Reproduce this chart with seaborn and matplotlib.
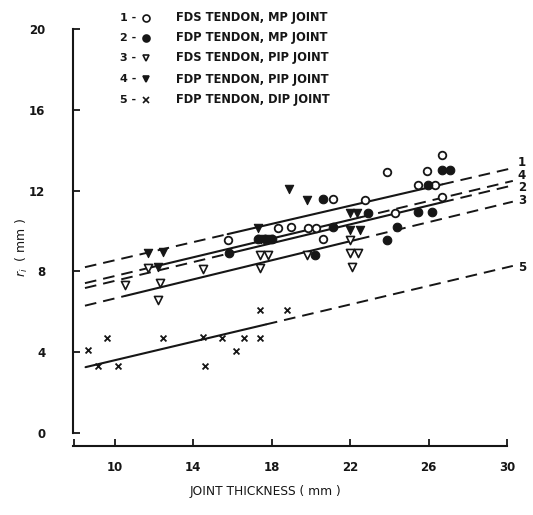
import matplotlib
matplotlib.use('Agg')
import matplotlib.pyplot as plt
import seaborn as sns

# ---------------- data ----------------
# 1 - FDS tendon, MP joint (open circles)
s1_x = [15.75, 18.3, 19.0, 19.85, 20.25, 20.6, 21.1, 22.75, 23.9, 24.3, 25.45, 25.9, 26.35, 26.7, 26.7]
s1_y = [9.55, 10.15, 10.2, 10.15, 10.15, 9.6, 11.6, 11.55, 12.9, 10.9, 12.3, 12.95, 12.3, 13.75, 11.7]
# 2 - FDP tendon, MP joint (filled circles)
s2_x = [15.8, 17.3, 17.65, 18.0, 20.2, 20.6, 21.1, 22.9, 23.9, 24.4, 25.45, 25.95, 26.2, 26.7, 27.1]
s2_y = [8.9, 9.6, 9.6, 9.6, 8.8, 11.6, 10.2, 10.9, 9.55, 10.2, 10.95, 12.3, 10.95, 13.0, 13.0]
# 3 - FDS tendon, PIP joint (open triangles)
s3_x = [10.5, 11.7, 12.3, 12.2, 14.5, 17.4, 17.8, 17.4, 19.8, 22.0, 22.0, 22.4, 22.1]
s3_y = [7.3, 8.15, 7.4, 6.6, 8.1, 8.8, 8.8, 8.15, 8.8, 9.55, 8.9, 8.9, 8.2]
# 4 - FDP tendon, PIP joint (filled triangles)
s4_x = [11.7, 12.45, 12.2, 17.3, 17.45, 17.85, 18.9, 19.8, 22.0, 22.35, 22.0, 22.5]
s4_y = [8.9, 8.95, 8.2, 10.15, 9.6, 9.6, 12.1, 11.55, 10.9, 10.9, 10.05, 10.05]
# 5 - FDP tendon, DIP joint (x)
s5_x = [8.6, 9.15, 9.6, 10.15, 12.45, 14.5, 14.6, 15.45, 16.2, 16.6, 17.4, 17.4, 18.8]
s5_y = [4.1, 3.3, 4.7, 3.3, 4.7, 4.75, 3.3, 4.7, 4.05, 4.7, 4.7, 6.1, 6.1]

# regression lines: y = a + b*x, solid over data range, dashed elsewhere
line_ids = ['1', '4', '2', '3', '5']
line_a = [6.3, 5.45, 5.2, 4.3, 1.3]
line_b = [0.225, 0.232, 0.233, 0.236, 0.230]
solid_lo = [15.75, 11.7, 15.8, 10.5, 8.5]
solid_hi = [26.7, 22.5, 26.7, 22.4, 17.7]
label_y = [13.4, 12.77, 12.13, 11.53, 8.17]
line_x_start = 8.47
line_x_end = 30.3

legend_nums = ['1', '2', '3', '4', '5']
legend_texts = ['FDS TENDON, MP JOINT', 'FDP TENDON, MP JOINT', 'FDS TENDON, PIP JOINT',
                'FDP TENDON, PIP JOINT', 'FDP TENDON, DIP JOINT']

x_ticks = [10, 14, 18, 22, 26, 30]
y_ticks = [0, 4, 8, 12, 16, 20]
x_label = 'JOINT THICKNESS ( mm )'
y_label = r'$r_i$  ( mm )'

# ---------------- figure ----------------
sns.set_theme(style='ticks')
plt.rcParams['font.family'] = ['DejaVu Sans']
ink = '#161616'

W, H = 533, 515
fig = plt.figure(figsize=(W / 100, H / 100), dpi=100)
fig.patch.set_facecolor('white')
ax = fig.add_axes([73 / W, 69 / H, 441.8 / W, 423 / H])
ax.set_facecolor('white')

# lines
for a, b, lo, hi in zip(line_a, line_b, solid_lo, solid_hi):
    sns.lineplot(x=[lo, hi], y=[a + b * lo, a + b * hi], ax=ax, color=ink, lw=1.5,
                 estimator=None, sort=False, zorder=2)
    segs = []
    if lo - line_x_start > 0.2:
        segs.append((line_x_start, lo))
    segs.append((hi, line_x_end))
    for x0, x1 in segs:
        sns.lineplot(x=[x0, x1], y=[a + b * x0, a + b * x1], ax=ax, color=ink, lw=1.4,
                     estimator=None, sort=False, linestyle=(0, (6, 3.6)), zorder=2)

for lid, ly in zip(line_ids, label_y):
    ax.text(30.55, ly, lid, fontsize=8.5, fontweight='bold', color=ink,
            ha='left', va='center', clip_on=False)

# markers
sns.scatterplot(x=s1_x, y=s1_y, ax=ax, marker='o', s=30, color='white',
                edgecolor=ink, linewidth=1.3, zorder=4)
sns.scatterplot(x=s2_x, y=s2_y, ax=ax, marker='o', s=38, color=ink,
                edgecolor=ink, linewidth=0.8, zorder=4)
sns.scatterplot(x=s3_x, y=s3_y, ax=ax, marker='v', s=34, color='white',
                edgecolor=ink, linewidth=1.2, zorder=4)
sns.scatterplot(x=s4_x, y=s4_y, ax=ax, marker='v', s=36, color=ink,
                edgecolor=ink, linewidth=0.8, zorder=4)
sns.scatterplot(x=s5_x, y=s5_y, ax=ax, marker='x', s=18, color=ink,
                linewidth=1.3, zorder=4)

# axes
ax.set_xlim(7.86, 30.4)
ax.set_ylim(-0.65, 20.3)
ax.set_xticks(x_ticks)
ax.set_yticks(y_ticks)
ax.set_xticklabels([str(t) for t in x_ticks])
ax.set_yticklabels([str(t) for t in y_ticks])
ax.set_xticks([7.9], minor=True)
ax.tick_params(axis='both', which='both', direction='in', length=5, width=1.3, colors=ink,
               labelsize=8.5)
ax.tick_params(axis='x', pad=11)
ax.tick_params(axis='y', pad=20)
for lab in ax.get_xticklabels() + ax.get_yticklabels():
    lab.set_fontweight('bold')
for side in ['top', 'right']:
    ax.spines[side].set_visible(False)
ax.spines['left'].set_bounds(0, 20)
ax.spines['bottom'].set_bounds(7.86, 30)
for side in ['left', 'bottom']:
    ax.spines[side].set_linewidth(1.5)
    ax.spines[side].set_color(ink)
ax.set_xlabel('')
ax.set_ylabel('')
ax.grid(False)

fig.text(265 / W, 1 - 492 / H, x_label, fontsize=8.8, color=ink, ha='center', va='center')
fig.text(22 / W, 1 - 248 / H, y_label, fontsize=9, color=ink, ha='center', va='center',
         rotation=90)

# legend block (number - marker  text)
leg_rows = [18, 38, 58, 79, 100]
leg_markers = [('o', 'white'), ('o', ink), ('v', 'white'), ('v', ink), ('x', ink)]
for yy, num, txt, (mk, fc) in zip(leg_rows, legend_nums, legend_texts, leg_markers):
    fy = 1 - yy / H
    fig.text(120 / W, fy, num + ' -', fontsize=8, fontweight='bold', color=ink,
             ha='left', va='center')
    ax.plot([146 / W], [fy], marker=mk, markersize=5 if mk != 'x' else 4.5,
            markerfacecolor=fc, markeredgecolor=ink, markeredgewidth=1.2,
            color=ink, transform=fig.transFigure, clip_on=False, linestyle='none')
    fig.text(176 / W, fy, txt, fontsize=8.3, fontweight='bold', color=ink,
             ha='left', va='center')

fig.savefig('out.png', dpi=100, facecolor='white')
